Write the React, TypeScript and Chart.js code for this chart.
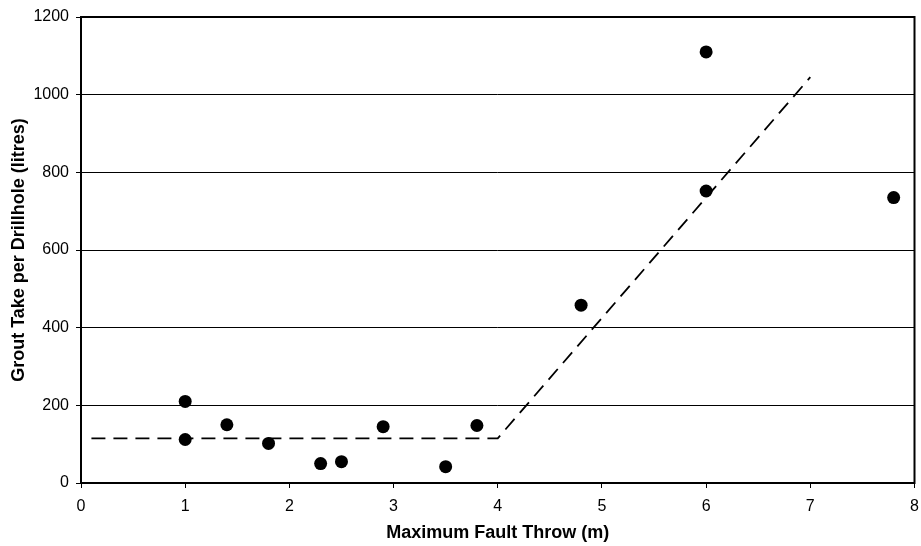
import React, { useEffect, useRef } from "react";
import { Chart, registerables } from "chart.js";

Chart.register(...registerables);

const throwX = [1, 1, 1.4, 1.8, 2.3, 2.5, 2.9, 3.5, 3.8, 4.8, 6, 6, 7.8];
const groutY = [210, 112, 150, 102, 50, 55, 145, 42, 148, 458, 1110, 752, 735];
const trendX = [0.1, 4, 7];
const trendY = [115, 115, 1045];
const xTicks = [0, 1, 2, 3, 4, 5, 6, 7, 8];
const yTicks = [0, 200, 400, 600, 800, 1000, 1200];

const FONT = "'Liberation Sans', Arial, Helvetica, sans-serif";

export default function App() {
  const ref = useRef<HTMLCanvasElement | null>(null);
  useEffect(() => {
    document.body.style.margin = "0";
    const canvas = ref.current;
    if (!canvas) return;
    const framePlugin = {
      id: "frame",
      afterDatasetsDraw(chart: any) {
        const { ctx, chartArea } = chart;
        ctx.save();
        ctx.strokeStyle = "#000";
        ctx.lineWidth = 2;
        ctx.strokeRect(chartArea.left, chartArea.top, chartArea.right - chartArea.left, chartArea.bottom - chartArea.top);
        ctx.restore();
      },
    };
    const chart = new Chart(canvas, {
      type: "scatter",
      data: {
        datasets: [
          {
            type: "line",
            data: trendX.map((x, i) => ({ x, y: trendY[i] })),
            borderColor: "#000",
            borderWidth: 1.8,
            borderDash: [14, 8],
            pointRadius: 0,
            fill: false,
            tension: 0,
          } as any,
          {
            type: "scatter",
            data: throwX.map((x, i) => ({ x, y: groutY[i] })),
            backgroundColor: "#000",
            borderColor: "#000",
            pointRadius: 6.5,
            pointBorderWidth: 0,
          },
        ],
      },
      options: {
        responsive: false,
        animation: false,
        layout: { padding: { top: 17, right: 3, left: 0, bottom: 0 } },
        plugins: { legend: { display: false }, tooltip: { enabled: false } },
        scales: {
          x: {
            type: "linear",
            min: 0,
            max: 8,
            afterBuildTicks: (s: any) => {
              s.ticks = xTicks.map((v) => ({ value: v }));
            },
            afterFit: (s: any) => {
              s.height = 63;
              s.paddingLeft = 0;
              s.paddingRight = 0;
            },
            ticks: {
              color: "#000",
              font: { family: FONT, size: 16 },
              padding: 9,
              maxRotation: 0,
              callback: (v: any) => String(v),
            },
            grid: { drawOnChartArea: false, color: "#000", tickLength: 5, lineWidth: 1 },
            border: { display: false },
            title: {
              display: true,
              text: "Maximum Fault Throw (m)",
              color: "#000",
              font: { family: FONT, size: 18, weight: "bold" },
              padding: { top: 0, bottom: 2 },
            },
          },
          y: {
            type: "linear",
            min: 0,
            max: 1200,
            afterBuildTicks: (s: any) => {
              s.ticks = yTicks.map((v) => ({ value: v }));
            },
            afterFit: (s: any) => {
              s.width = 81;
              s.paddingTop = 0;
              s.paddingBottom = 0;
            },
            ticks: {
              color: "#000",
              font: { family: FONT, size: 16 },
              padding: 7,
              callback: (v: any) => String(v),
            },
            grid: { color: "#000", tickLength: 5, lineWidth: 1 },
            border: { display: false },
            title: {
              display: true,
              text: "Grout Take per Drillhole (litres)",
              color: "#000",
              font: { family: FONT, size: 18, weight: "bold" },
              padding: { top: 8, bottom: 0 },
            },
          },
        },
      },
      plugins: [framePlugin],
    });
    return () => chart.destroy();
  }, []);
  return (
    <div style={{ position: "absolute", left: 0, top: 0, width: 921, height: 546 }}>
      <canvas ref={ref} width={921} height={546} style={{ width: 921, height: 546 }} />
    </div>
  );
}
